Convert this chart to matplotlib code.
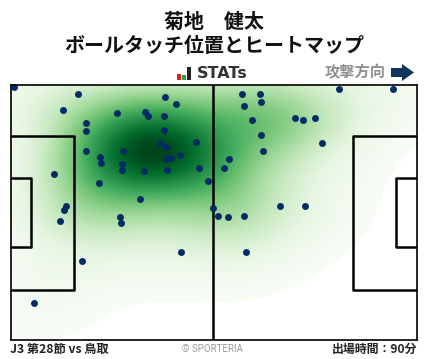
#!/usr/bin/env python3
# -*- coding:utf-8 -*-
import numpy as np
import matplotlib
matplotlib.use("Agg")
import matplotlib.pyplot as plt
from matplotlib.colors import PowerNorm
from matplotlib.patches import Rectangle, Polygon

plt.rcParams['font.family'] = ['Noto Sans CJK JP', 'DejaVu Sans']

title_lines = ["菊地　健太", "ボールタッチ位置とヒートマップ"]
match_label = "J3 第28節 vs 鳥取"
copyright_label = "© SPORTERIA"
minutes_label = "出場時間：90分"
direction_label = "攻撃方向"

# touch positions (pixels of the reference)
touch_x = [14.3, 78.3, 63.3, 86.3, 86.3, 117.3, 145.3, 148.3, 164.3, 165.3, 176.3,
           164.3, 160.3, 166.3, 196.3, 180.3, 171.3, 166.3, 86.3, 123.3, 100.3,
           101.3, 122.3, 122.3, 144.3, 167.3, 199.3, 208.3, 54.3, 99.3, 140.3,
           66.3, 64.3, 60.3, 120.3, 121.3, 213.0, 218.3, 228.3, 244.3, 280.3,
           305.3, 242.3, 260.3, 261.3, 244.3, 252.3, 295.3, 303.3, 315.3, 261.3,
           322.3, 263.3, 229.3, 224.3, 339.3, 393.3, 82.3, 34.3, 181.3, 246.3]
touch_y = [87.3, 94.3, 110.3, 123.3, 131.3, 113.3, 112.3, 116.3, 116.3, 97.3, 104.3,
           130.3, 143.3, 147.3, 142.3, 155.3, 158.3, 159.3, 151.3, 151.3, 157.3,
           163.3, 164.3, 170.3, 171.3, 170.3, 168.3, 181.3, 174.3, 183.3, 199.3,
           206.3, 210.3, 220.5, 217.3, 223.3, 208.3, 216.3, 217.3, 216.3, 206.3,
           206.3, 94.3, 94.3, 102.3, 106.3, 120.3, 118.3, 120.3, 118.3, 135.3,
           143.3, 151.3, 159.3, 168.3, 89.3, 89.3, 261.3, 303.3, 252.3, 252.3]

W, H = 428, 359
LEFT, RIGHT, TOP, BOTTOM = 10.5, 416.5, 84.5, 340.0


def density(gx, gy, xs, ys, bw_x, bw_y):
    # plain gaussian kde on the touches
    d = np.zeros_like(gx)
    for x, y in zip(xs, ys):
        d += np.exp(-0.5 * (((gx - x) / bw_x) ** 2 + ((gy - y) / bw_y) ** 2))
    return d / d.max()


fig = plt.figure(figsize=(W / 100, H / 100), dpi=100, facecolor='white')

# page axes in reference pixels, for the things around the pitch
page = fig.add_axes([0, 0, 1, 1])
page.set_xlim(0, W)
page.set_ylim(H, 0)
page.axis('off')

ax = fig.add_axes([LEFT / W, 1 - BOTTOM / H, (RIGHT - LEFT) / W, (BOTTOM - TOP) / H])
ax.set_xlim(LEFT, RIGHT)
ax.set_ylim(BOTTOM, TOP)
ax.set_xticks([])
ax.set_yticks([])
for s in ax.spines.values():
    s.set_linewidth(1.2)
    s.set_color('black')
    s.set_zorder(6)

gx, gy = np.meshgrid(np.linspace(LEFT, RIGHT, 406), np.linspace(TOP, BOTTOM, 256))
dens = density(gx, gy, touch_x, touch_y, 46, 31)
cmap = plt.get_cmap('Greens').copy()
cmap.set_under('white')
ax.imshow(dens, extent=(LEFT, RIGHT, BOTTOM, TOP), cmap=cmap,
          norm=PowerNorm(1.25, vmin=0.03, vmax=1.0),
          aspect='auto', interpolation='bilinear', zorder=1)

# pitch lines
lw = 1.8
ax.plot([213, 213], [TOP, BOTTOM], color='black', lw=lw, zorder=3)
ax.plot([LEFT, 73.5, 73.5, LEFT], [136, 136, 289.5, 289.5], color='black', lw=lw, zorder=3)
ax.plot([LEFT, 31, 31, LEFT], [178, 178, 247, 247], color='black', lw=lw, zorder=3)
ax.plot([RIGHT, 352.8, 352.8, RIGHT], [136, 136, 289.5, 289.5], color='black', lw=lw, zorder=3)
ax.plot([RIGHT, 395.8, 395.8, RIGHT], [178, 178, 247, 247], color='black', lw=lw, zorder=3)

ax.scatter(touch_x, touch_y, s=25, color='#002c63', linewidths=0, zorder=5, clip_on=False)

# titles
page.text(214, 21.5, title_lines[0], ha='center', va='center', fontsize=14.4, fontweight='bold', color='#111111')
page.text(214, 46, title_lines[1], ha='center', va='center', fontsize=14.4, fontweight='bold', color='#111111')

# stats logo
page.add_patch(Rectangle((177, 74), 4, 6, color='#d8202a', lw=0))
page.add_patch(Rectangle((182, 75), 4, 5, color='#2f9e44', lw=0))
page.add_patch(Rectangle((187, 67), 4, 13, color='#222222', lw=0))
page.text(196.5, 73.5, "STATs", ha='left', va='center', fontsize=11.5, fontweight='bold',
          color='#333333', family=['DejaVu Sans'])

# attack direction
page.text(355.5, 72, direction_label, ha='center', va='center', fontsize=11, fontweight='bold', color='#909090')
page.add_patch(Polygon([(391, 68), (402, 68), (402, 64), (414, 72.5), (402, 81), (402, 77), (391, 77)],
                       closed=True, color='#12355b', lw=0))

# footer
page.text(10, 349, match_label, ha='left', va='center', fontsize=8.8, fontweight='bold', color='#222222')
page.text(213, 348.5, copyright_label, ha='center', va='center', fontsize=7, color='#999999',
          family=['Roboto', 'DejaVu Sans'])
page.text(417, 349, minutes_label, ha='right', va='center', fontsize=8.6, fontweight='bold', color='#222222')

fig.savefig('out.png', dpi=100, facecolor='white')
